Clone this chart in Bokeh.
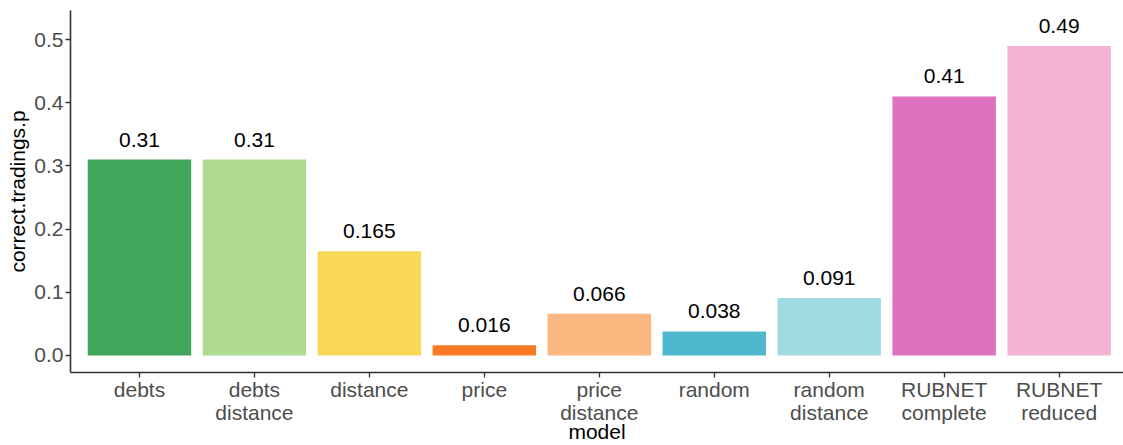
from bokeh.plotting import figure
from bokeh.models import ColumnDataSource, Range1d, FixedTicker, NumeralTickFormatter
from bokeh.core.properties import value
from bokeh.embed import file_html
from bokeh.resources import INLINE

models = ["debts", "debts\ndistance", "distance", "price", "price\ndistance",
          "random", "random\ndistance", "RUBNET\ncomplete", "RUBNET\nreduced"]
values = [0.31, 0.31, 0.165, 0.016, 0.066, 0.038, 0.091, 0.41, 0.49]
labels = ["0.31", "0.31", "0.165", "0.016", "0.066", "0.038", "0.091", "0.41", "0.49"]
colors = ["#41A55A", "#B0D992", "#F9D858", "#F87A24", "#FAB77F",
          "#4EB8CC", "#A0DBE2", "#DE72C1", "#F2B3D4"]
y_ticks = [0.0, 0.1, 0.2, 0.3, 0.4, 0.5]

xs = list(range(len(models)))
src = ColumnDataSource(dict(x=xs, top=values, label=labels, color=colors))

FONT = "Liberation Sans"
p = figure(width=1123, height=445, output_backend="svg", toolbar_location=None,
           x_range=Range1d(-0.6, 8.56), y_range=Range1d(-0.027, 0.546),
           min_border_left=70, min_border_right=0, min_border_top=10, min_border_bottom=73)

p.vbar(x="x", top="top", bottom=0, width=0.9, fill_color="color", line_color=None, source=src)
p.text(x="x", y="top", text="label", source=src, text_align="center", text_baseline="bottom",
       y_offset=-13, text_font=value(FONT), text_font_size="21px", text_color="black")

p.xgrid.visible = False
p.ygrid.visible = False
p.outline_line_color = None
p.background_fill_color = "white"
p.border_fill_color = "white"

p.xaxis.ticker = FixedTicker(ticks=xs)
p.xaxis.major_label_overrides = {i: m for i, m in enumerate(models)}
p.yaxis.ticker = FixedTicker(ticks=y_ticks)
p.yaxis.formatter = NumeralTickFormatter(format="0.0")
p.xaxis.minor_tick_line_color = None
p.yaxis.minor_tick_line_color = None

for ax in (p.xaxis[0], p.yaxis[0]):
    ax.axis_line_color = "#333333"
    ax.axis_line_width = 1.6
    ax.major_tick_line_color = "#333333"
    ax.major_tick_line_width = 1.3
    ax.major_tick_in = 0
    ax.major_tick_out = 5
    ax.major_label_text_font = FONT
    ax.major_label_text_font_size = "21px"
    ax.major_label_text_color = "#4D4D4D"
    ax.major_label_text_line_height = 1.0
    ax.axis_label_text_font = FONT
    ax.axis_label_text_font_size = "21px"
    ax.axis_label_text_font_style = "normal"
    ax.axis_label_text_color = "black"
    ax.axis_label_text_line_height = 1.0

p.xaxis.axis_label = "model"
p.yaxis.axis_label = "correct.tradings.p"
p.xaxis.major_label_standoff = 0
p.xaxis.axis_label_standoff = -7
p.yaxis.major_label_standoff = 2
p.yaxis.axis_label_standoff = 2

open("out.html", "w").write(file_html(p, INLINE))
